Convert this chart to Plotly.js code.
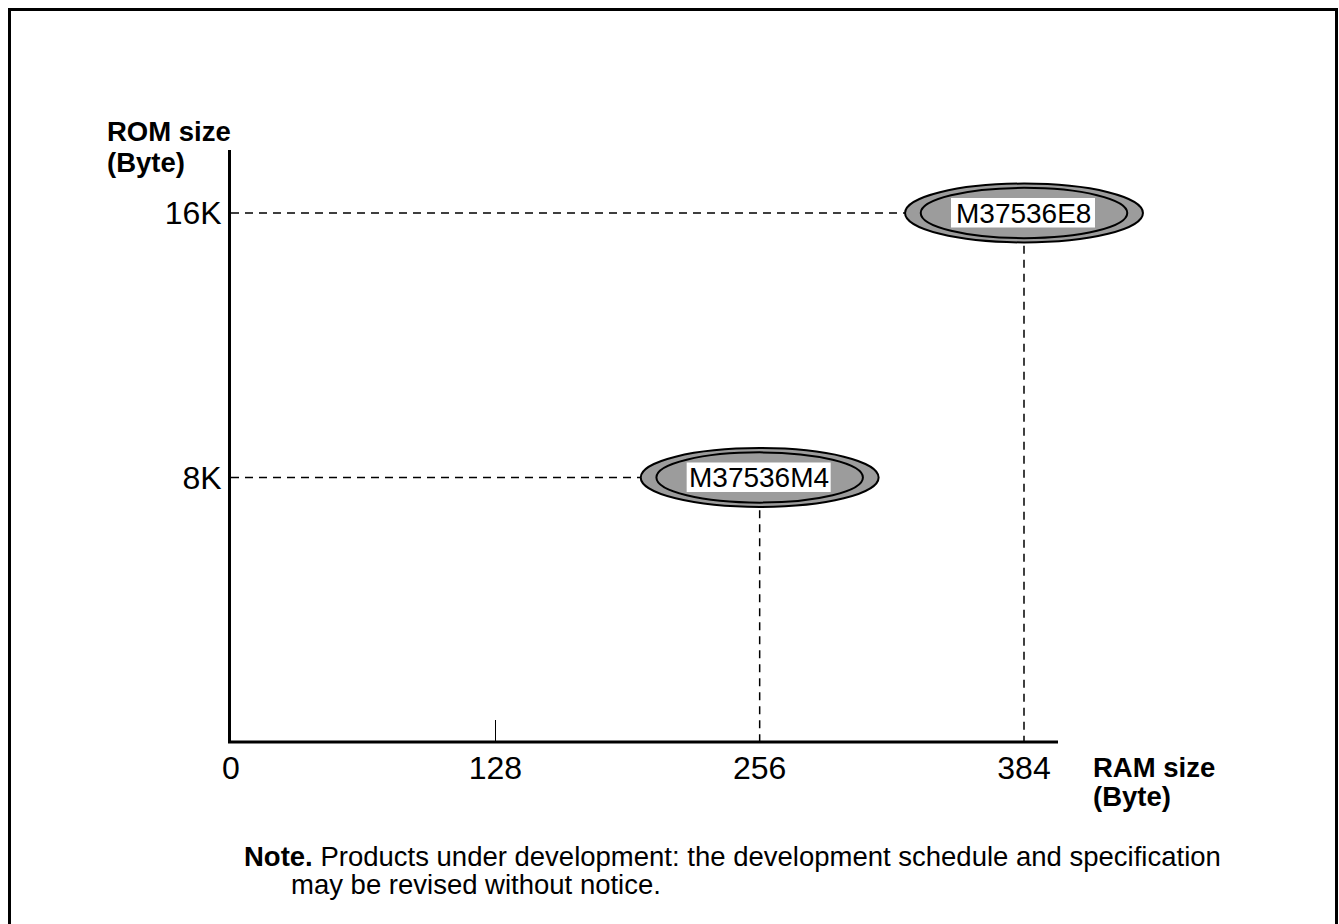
<!DOCTYPE html>
<html>
<head>
<meta charset="utf-8">
<script src="https://cdn.plot.ly/plotly-3.0.1.min.js"></script>
<style>
  html, body { margin: 0; padding: 0; background: #ffffff; }
  #chart { width: 1339px; height: 924px; }
</style>
</head>
<body>
<div id="chart"></div>
<script>
// ---- data ----
const products = ['M37536M4', 'M37536E8'];
const ramSize = [256, 384];          // Byte
const romSizeK = [8, 16];            // KByte
const ramTickVals = [0, 128, 256, 384];
const ramTickText = ['0', '128', '256', '384'];
const romTickVals = [8, 16];
const romTickText = ['8K', '16K'];
const minorRamTicks = [128];

// ---- style constants ----
const FONT = '"Liberation Sans", Arial, Helvetica, sans-serif';
const outerRx = 57.6, outerRy = 0.89;
const innerRx = 50.0, innerRy = 0.76;
const fillGray = '#9c9c9c';

// plot area in pixels (extended to the right so the ellipses are not clipped)
const L = 231, R = 1170, T = 150, B = 742;
const AXIS_END = 1058;
const W = 1339, H = 924;
const xScale = (1024 - L) / 384;       // px per byte
const yScale = (B - 213) / 16;         // px per KByte
const px2paperX = p => (p - L) / (R - L);
const px2paperY = p => (B - p) / (B - T);

const traces = [];
products.forEach((name, i) => {
  const x = ramSize[i], y = romSizeK[i];
  traces.push({
    type: 'scatter', mode: 'lines', x: [0, x - outerRx], y: [y, y],
    line: { color: '#000', width: 1.5, dash: '8px,6px' }, hoverinfo: 'skip', showlegend: false
  });
  traces.push({
    type: 'scatter', mode: 'lines', x: [x, x], y: [y - outerRy - 0.1, 0],
    line: { color: '#000', width: 1.5, dash: '8px,6px' }, hoverinfo: 'skip', showlegend: false
  });
});
// invisible trace on second x axis, used for the single inner tick at 128
traces.push({ type: 'scatter', mode: 'markers', x: [128], y: [0], xaxis: 'x2',
  marker: { opacity: 0 }, hoverinfo: 'skip', showlegend: false });

const shapes = [];
products.forEach((name, i) => {
  const x = ramSize[i], y = romSizeK[i];
  shapes.push({ type: 'circle', xref: 'x', yref: 'y',
    x0: x - outerRx, x1: x + outerRx, y0: y - outerRy, y1: y + outerRy,
    fillcolor: fillGray, line: { color: '#000', width: 2 }, layer: 'above' });
  shapes.push({ type: 'circle', xref: 'x', yref: 'y',
    x0: x - innerRx, x1: x + innerRx, y0: y - innerRy, y1: y + innerRy,
    fillcolor: 'rgba(0,0,0,0)', line: { color: '#000', width: 2 }, layer: 'above' });
  // white label box, sized in pixels around the product position
  shapes.push({ type: 'rect', xref: 'x', yref: 'y',
    xsizemode: 'pixel', xanchor: x, x0: -73, x1: 71,
    ysizemode: 'pixel', yanchor: y, y0: -14.5, y1: 15,
    fillcolor: '#ffffff', line: { width: 0 }, layer: 'above' });
});
// x axis line (ends before the RAM title)
shapes.push({ type: 'line', xref: 'paper', yref: 'paper',
  x0: px2paperX(228), x1: px2paperX(AXIS_END), y0: 0, y1: 0,
  line: { color: '#000', width: 3 }, layer: 'above' });
// outer frame (top, left, right)
shapes.push({ type: 'path', xref: 'paper', yref: 'paper',
  path: `M ${px2paperX(9.5)} ${px2paperY(935)} L ${px2paperX(9.5)} ${px2paperY(9.5)} L ${px2paperX(1336.5)} ${px2paperY(9.5)} L ${px2paperX(1336.5)} ${px2paperY(935)}`,
  line: { color: '#000', width: 3 } });

const annotations = [];
products.forEach((name, i) => {
  annotations.push({ x: ramSize[i], y: romSizeK[i], xref: 'x', yref: 'y', text: name,
    showarrow: false, xshift: -1,
    font: { family: FONT, size: 28, color: '#000' } });
});
function textAt(px, py, text, opts) {
  annotations.push(Object.assign({ xref: 'paper', yref: 'paper', x: px2paperX(px), y: px2paperY(py),
    xanchor: 'left', yanchor: 'middle', align: 'left', showarrow: false, text: text,
    font: { family: FONT, size: 27.5, color: '#000' } }, opts || {}));
}
textAt(105, 131, '<b>ROM size</b>');
textAt(105, 162, '<b>(Byte)</b>');
textAt(1091, 767, '<b>RAM size</b>');
textAt(1091, 796, '<b>(Byte)</b>');
textAt(242, 856, '<b>Note.</b> Products under development: the development schedule and specification');
textAt(289, 884, 'may be revised without notice.');

const xr = [0, (R - L) / xScale];
const yr = [0, (B - T) / yScale];

const layout = {
  width: W, height: H,
  margin: { l: L, r: W - R, t: T, b: H - B, pad: 0 },
  paper_bgcolor: '#ffffff', plot_bgcolor: '#ffffff',
  showlegend: false,
  font: { family: FONT, color: '#000' },
  xaxis: {
    range: xr, tickvals: ramTickVals, ticktext: ramTickText, ticks: '',
    showgrid: false, zeroline: false, showline: false,
    tickfont: { family: FONT, size: 32, color: '#000' }, ticklabelstandoff: 4,
    fixedrange: true
  },
  xaxis2: {
    range: xr, overlaying: 'x', anchor: 'y', side: 'bottom',
    tickvals: minorRamTicks, ticks: 'inside', ticklen: 22, tickwidth: 1.5, tickcolor: '#000',
    showticklabels: false, showgrid: false, zeroline: false, showline: false
  },
  yaxis: {
    range: yr, tickvals: romTickVals, ticktext: romTickText, ticks: '',
    showgrid: false, zeroline: false, showline: true, linecolor: '#000', linewidth: 3,
    tickfont: { family: FONT, size: 32, color: '#000' }, ticklabelstandoff: 0,
    fixedrange: true
  },
  shapes: shapes,
  annotations: annotations
};

Plotly.newPlot('chart', traces, layout, { displayModeBar: false, staticPlot: true });
</script>
</body>
</html>
